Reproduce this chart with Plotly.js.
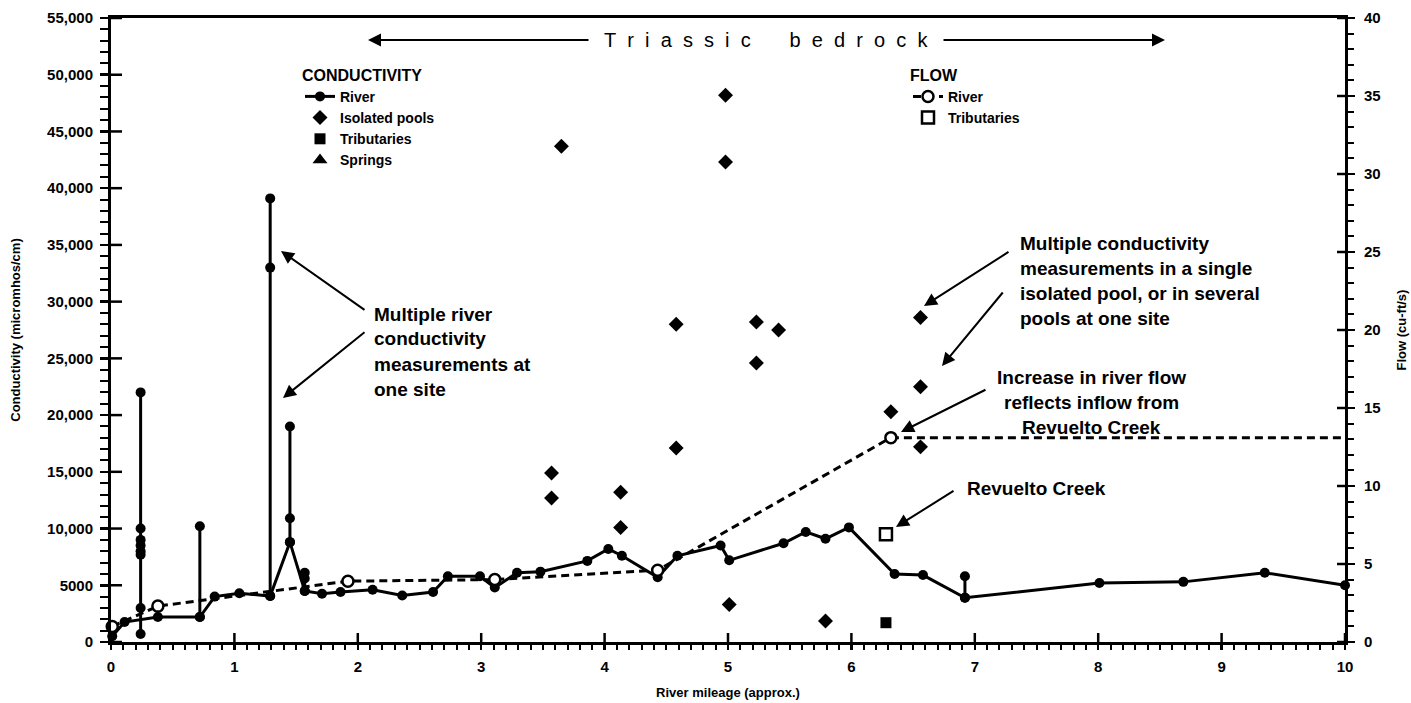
<!DOCTYPE html>
<html><head><meta charset="utf-8">
<script src="https://cdn.plot.ly/plotly-3.0.1.min.js"></script>
<style>html,body{margin:0;padding:0;background:#fff}#chart{width:1411px;height:703px}</style>
</head><body><div id="chart"></div>
<script>
// ---- Data ----
// River conductivity (main line), micromhos/cm
const riverMiles = [0.01, 0.11, 0.38, 0.72, 0.84, 1.04, 1.29, 1.45, 1.57, 1.71, 1.86, 2.12, 2.36, 2.61, 2.73, 2.99, 3.11, 3.29, 3.48, 3.86, 4.03, 4.14, 4.43, 4.59, 4.94, 5.01, 5.45, 5.63, 5.79, 5.98, 6.35, 6.58, 6.92, 8.01, 8.69, 9.35, 10.0];
const riverCond  = [500, 1760, 2200, 2200, 4000, 4300, 4050, 8800, 4500, 4250, 4400, 4600, 4100, 4400, 5800, 5800, 4800, 6100, 6200, 7150, 8200, 7600, 5700, 7600, 8500, 7200, 8700, 9700, 9100, 10100, 6000, 5900, 3900, 5200, 5300, 6100, 5000];

// Multiple river conductivity measurements at one site
const siteMiles = [0.24, 0.72, 1.29, 1.45, 1.57, 6.92];
const siteCond = [
  [700, 3000, 7700, 8000, 8500, 9000, 10000, 22000],
  [2200, 10200],
  [4050, 33000, 39100],
  [8800, 10900, 19000],
  [4500, 5600, 6100],
  [3900, 5800]
];

// Isolated pools conductivity
const poolMiles = [3.57, 3.57, 3.65, 4.13, 4.13, 4.58, 4.58, 4.98, 4.98, 5.01, 5.23, 5.23, 5.41, 5.79, 6.32, 6.56, 6.56, 6.56];
const poolCond  = [14900, 12700, 43700, 13200, 10100, 28000, 17100, 48200, 42300, 3300, 28200, 24600, 27500, 1850, 20300, 28600, 22500, 17200];

// Tributaries conductivity
const tribMiles = [6.28];
const tribCond  = [1700];

// Springs (legend only, no points drawn)
const springMiles = [null];
const springCond  = [null];

// Flow (cu-ft/s)
const flowMiles = [0.01, 0.38, 1.92, 3.11, 4.43, 6.32];
const flowRiver = [1.0, 2.3, 3.9, 4.0, 4.6, 13.1];
const flowExtMiles = [6.32, 10.0];
const flowExtRiver = [13.1, 13.1];
const flowTribMiles = [6.28];
const flowTrib = [6.9];

// Axis ticks
const xTicks = [0,1,2,3,4,5,6,7,8,9,10];
const yTicks = [0,5000,10000,15000,20000,25000,30000,35000,40000,45000,50000,55000];
const yTickText = ['0','5000','10,000','15,000','20,000','25,000','30,000','35,000','40,000','45,000','50,000','55,000'];
const y2Ticks = [0,5,10,15,20,25,30,35,40];

// ---- Drawing ----
const FONT = 'Liberation Sans, Arial, Helvetica, sans-serif';
const K = '#000';
const PL = 111, PR = 1345, PT = 18, PB = 642;
const W = PR - PL, H = PB - PT;
const px = v => (v - PL) / W;
const py = v => (PB - v) / H;

const traces = [];
traces.push({x: riverMiles, y: riverCond, type:'scatter', mode:'lines+markers', name:'River', legend:'legend',
  line:{color:K, width:3}, marker:{color:K, size:10}, cliponaxis:false});
traces.push({x: poolMiles, y: poolCond, type:'scatter', mode:'markers', name:'Isolated pools', legend:'legend',
  marker:{color:K, size:11.5, symbol:'diamond'}, cliponaxis:false});
traces.push({x: tribMiles, y: tribCond, type:'scatter', mode:'markers', name:'Tributaries', legend:'legend',
  marker:{color:K, size:11, symbol:'square'}, cliponaxis:false});
traces.push({x: springMiles, y: springCond, type:'scatter', mode:'markers', name:'Springs', legend:'legend',
  marker:{color:K, size:13, symbol:'triangle-up'}});
siteMiles.forEach((m, i) => {
  traces.push({x: siteCond[i].map(() => m), y: siteCond[i], type:'scatter', mode:'lines+markers', showlegend:false,
    line:{color:K, width:3}, marker:{color:K, size:10}, cliponaxis:false});
});
traces.push({x: flowExtMiles, y: flowExtRiver, yaxis:'y2', type:'scatter', mode:'lines', showlegend:false,
  line:{color:K, width:3, dash:'8px,5px'}, cliponaxis:false});
traces.push({x: flowMiles, y: flowRiver, yaxis:'y2', type:'scatter', mode:'lines+markers', name:'River', legend:'legend2',
  line:{color:K, width:3, dash:'8px,5px'}, marker:{color:'#fff', size:11, line:{color:K, width:2.5}}, cliponaxis:false});
traces.push({x: flowTribMiles, y: flowTrib, yaxis:'y2', type:'scatter', mode:'markers', name:'Tributaries', legend:'legend2',
  marker:{color:'#fff', size:12, symbol:'square', line:{color:K, width:2.5}}, cliponaxis:false});

const tfont = {family:FONT, size:15, color:K, weight:'bold'};
const afont = {family:FONT, size:19, color:K, weight:'bold'};

function txt(t, x, y, anchor) {
  return {xref:'paper', yref:'paper', x:px(x), y:py(y), text:t, showarrow:false,
    xanchor:anchor || 'left', yanchor:'middle', font:afont};
}
function arrow(hx, hy, tx, ty) {
  return {xref:'paper', yref:'paper', x:px(hx), y:py(hy), ax:tx - hx, ay:ty - hy, text:'',
    showarrow:true, arrowhead:2, arrowsize:1.3, arrowwidth:2, arrowcolor:K, standoff:0, startstandoff:0};
}
const sp = '\u00a0\u00a0';
const triassic = 'Triassic'.split('').join(sp) + '\u00a0'.repeat(7) + 'bedrock'.split('').join(sp);

const annotations = [
  {xref:'paper', yref:'paper', x:px(766), y:py(40), text:triassic, showarrow:false, xanchor:'center', yanchor:'middle',
    font:{family:FONT, size:20, color:K}},
  arrow(368, 40, 590, 40),
  arrow(1165, 40, 942, 40),
  txt('Multiple river', 372, 314), txt('conductivity', 372, 339), txt('measurements at', 372, 364), txt('one site', 372, 389),
  arrow(281, 251, 366, 311), arrow(283, 398, 366, 331),
  txt('Multiple conductivity', 1018, 243), txt('measurements in a single', 1018, 268),
  txt('isolated pool, or in several', 1018, 293), txt('pools at one site', 1018, 318),
  arrow(924, 306, 1010, 251), arrow(942, 366, 1004, 291),
  txt('Increase in river flow', 1091, 377, 'center'), txt('reflects inflow from', 1091, 402, 'center'),
  txt('Revuelto Creek', 1091, 427, 'center'),
  arrow(901, 432, 987, 389),
  txt('Revuelto Creek', 965, 488),
  arrow(896, 527, 955, 490)
];

// inner halves of the major ticks (they cross the axis lines), placed at the tick values
const shapes = [];
const tickLine = {color:K, width:2.5};
xTicks.forEach(v => shapes.push({type:'line', xref:'x', yref:'paper', x0:v, x1:v, y0:0, y1:9 / H, line:tickLine, layer:'above'}));
yTicks.forEach(v => shapes.push({type:'line', xref:'paper', yref:'y', x0:0, x1:11 / W, y0:v, y1:v, line:tickLine, layer:'above'}));
y2Ticks.forEach(v => shapes.push({type:'line', xref:'paper', yref:'y2', x0:1 - 8 / W, x1:1, y0:v, y1:v, line:tickLine, layer:'above'}));

const legFont = {family:FONT, size:14, color:K, weight:'bold'};
const legTitleFont = {family:FONT, size:16, color:K, weight:'bold'};

const layout = {
  width:1411, height:703,
  margin:{l:PL, r:1411-PR, t:PT, b:703-PB, pad:0},
  paper_bgcolor:'#fff', plot_bgcolor:'#fff',
  font:{family:FONT, color:K},
  showlegend:true,
  xaxis:{range:[0,10], tickmode:'array', tickvals:xTicks, ticks:'outside', ticklen:5, tickwidth:2.5, tickcolor:K,
    showline:true, linewidth:3, linecolor:K, mirror:true, showgrid:false, zeroline:false,
    tickfont:tfont, ticklabelstandoff:4,
    minor:{tick0:0, dtick:0.1, ticks:'outside', ticklen:5, tickwidth:2, tickcolor:K, showgrid:false},
    title:{text:'River mileage (approx.)', font:{family:FONT, size:13, color:K, weight:'bold'}, standoff:14}},
  yaxis:{range:[0,55000], tickmode:'array', tickvals:yTicks, ticktext:yTickText, ticks:'outside', ticklen:8, tickwidth:2.5, tickcolor:K,
    showline:true, linewidth:3, linecolor:K, showgrid:false, zeroline:false,
    tickfont:tfont, ticklabelstandoff:4,
    minor:{tick0:0, dtick:1000, ticks:'outside', ticklen:8, tickwidth:2, tickcolor:K, showgrid:false},
    title:{text:'Conductivity (micromhos/cm)', font:{family:FONT, size:13, color:K, weight:'bold'}, standoff:24}},
  yaxis2:{overlaying:'y', side:'right', range:[0,40], tickmode:'array', tickvals:y2Ticks, ticks:'outside', ticklen:7, tickwidth:2.5, tickcolor:K,
    showline:true, linewidth:3, linecolor:K, showgrid:false, zeroline:false,
    tickfont:tfont, ticklabelstandoff:6,
    minor:{tick0:0, dtick:1, ticks:'outside', ticklen:6, tickwidth:2, tickcolor:K, showgrid:false},
    title:{text:'Flow (cu-ft/s)', font:{family:FONT, size:13, color:K, weight:'bold'}, standoff:18}},
  legend:{x:px(300), y:py(60), xanchor:'left', yanchor:'top', bgcolor:'rgba(0,0,0,0)', borderwidth:0,
    font:legFont, tracegroupgap:0,
    title:{text:'CONDUCTIVITY', side:'top', font:legTitleFont}},
  legend2:{x:px(908), y:py(60), xanchor:'left', yanchor:'top', bgcolor:'rgba(0,0,0,0)', borderwidth:0,
    font:legFont, tracegroupgap:0,
    title:{text:'FLOW', side:'top', font:legTitleFont}},
  shapes:shapes,
  annotations:annotations
};

Plotly.newPlot('chart', traces, layout, {displayModeBar:false, staticPlot:true});
</script></body></html>
